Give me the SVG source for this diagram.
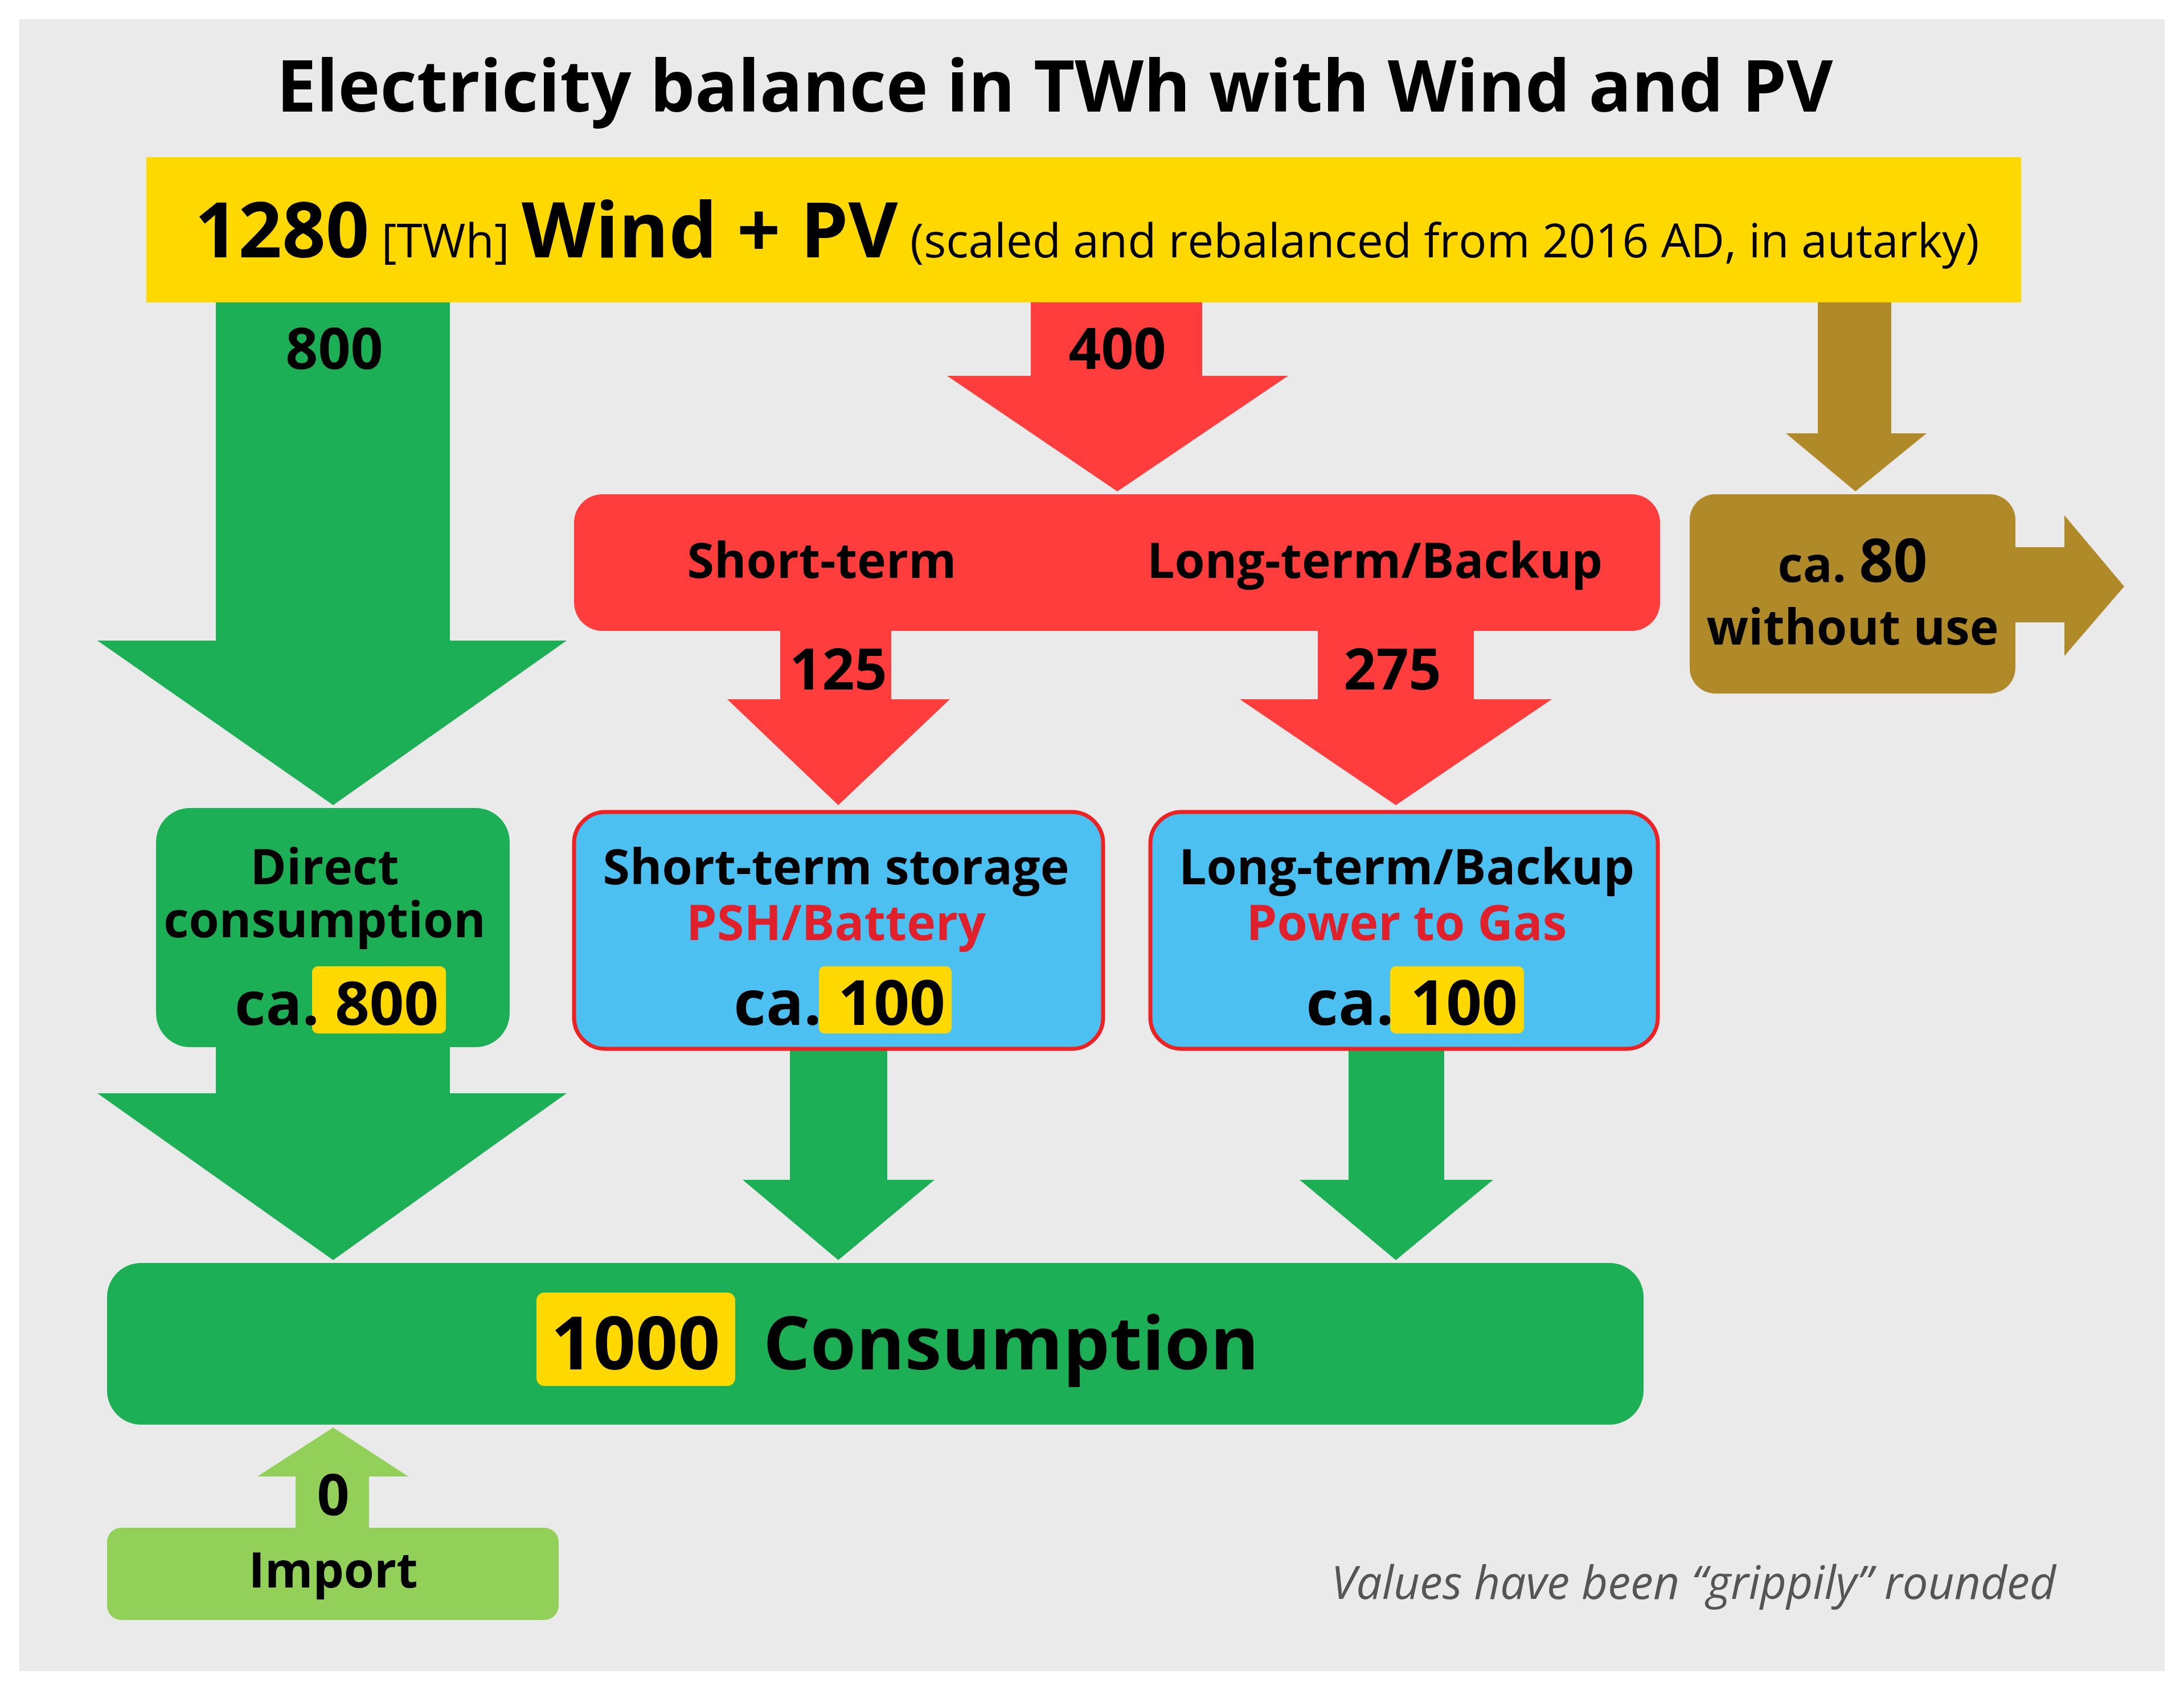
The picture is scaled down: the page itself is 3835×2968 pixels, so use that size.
<svg xmlns="http://www.w3.org/2000/svg" width="3835" height="2968" viewBox="0 0 3835 2968">
<style>
text{font-family:"Open Sans","Noto Sans","DejaVu Sans",sans-serif;fill:#000;text-anchor:middle;font-weight:bold}
.g{fill:#1caf55}.r{fill:#ff3d3d}.b{fill:#b08a28}.y{fill:#ffd800}.lg{fill:#92d05a}
.blue{fill:#4cc0f0;stroke:#ee2222;stroke-width:7}
.red{fill:#e0202a}
.end{text-anchor:end}
.note{font-weight:normal;font-style:italic;fill:#555;text-anchor:end}
</style>
<rect width="3835" height="2968" fill="#fff"/>
<rect x="34" y="34" width="3767" height="2901" fill="#e9eae9"/>
<text x="1852" y="196" font-size="125">Electricity balance in TWh with Wind and PV</text>
<g id="source">
<rect x="257" y="276" width="3292" height="255" class="y"/>
<text x="342" y="452" style="text-anchor:start"><tspan font-size="134">1280</tspan><tspan font-size="82" style="font-weight:normal"> [TWh] </tspan><tspan font-size="134">Wind + PV</tspan><tspan font-size="82" style="font-weight:normal"> (scaled and rebalanced from 2016 AD, in autarky)</tspan></text>
</g>
<g id="connectors">
<polygon class="g" points="379,531 790,531 790,1125 995,1125 585,1414 171,1125 379,1125"/>
<polygon class="r" points="1810,531 2111,531 2111,660 2262,660 1962,863 1663,660 1810,660"/>
<polygon class="b" points="3192,531 3321,531 3321,761 3383,761 3258,863 3136,761 3192,761"/>
<polygon class="b" points="3539,961 3625,961 3625,905 3730,1030 3625,1152 3625,1093 3539,1093"/>
<polygon class="r" points="1370,1108 1565,1108 1565,1228 1668,1228 1472,1414 1277,1228 1370,1228"/>
<polygon class="r" points="2314,1108 2588,1108 2588,1228 2725,1228 2451,1414 2177,1228 2314,1228"/>
<polygon class="g" points="379,1839 790,1839 790,1920 995,1920 585,2213 171,1920 379,1920"/>
<polygon class="g" points="1387,1842 1558,1842 1558,2072 1641,2072 1472,2213 1304,2072 1387,2072"/>
<polygon class="g" points="2368,1842 2536,1842 2536,2072 2622,2072 2451,2213 2282,2072 2368,2072"/>
<polygon class="lg" points="519,2683 648,2683 648,2593 717,2593 585,2507 452,2593 519,2593"/>
<text x="587" y="648" font-size="100">800</text>
<text x="1962" y="648" font-size="100">400</text>
<text x="1472" y="1211" font-size="100">125</text>
<text x="2445" y="1211" font-size="100">275</text>
<text x="585" y="2661" font-size="100">0</text>
</g>
<g id="storage">
<rect x="1008" y="868" width="1907" height="240" rx="50" class="r"/>
<text x="1443" y="1015" font-size="86">Short-term</text>
<text x="2414" y="1015" font-size="86">Long-term/Backup</text>
</g>
<g id="unused">
<rect x="2967" y="868" width="572" height="350" rx="45" class="b"/>
<text x="3253" y="1022" font-size="86">ca. <tspan font-size="105">80</tspan></text>
<text x="3253" y="1132" font-size="86">without use</text>
</g>
<g id="direct">
<rect x="274" y="1419" width="621" height="420" rx="60" class="g"/>
<text x="570" y="1553" font-size="86">Direct</text>
<text x="570" y="1646" font-size="86">consumption</text>
<rect x="548" y="1697" width="235" height="118" rx="10" class="y"/>
<text x="770" y="1800" font-size="106" class="end">ca. 800</text>
</g>
<g id="short">
<rect x="1008" y="1426" width="929" height="416" rx="55" class="blue"/>
<text x="1468" y="1553" font-size="86">Short-term storage</text>
<text x="1468" y="1651" font-size="86" class="red">PSH/Battery</text>
<rect x="1438" y="1697" width="233" height="118" rx="10" class="y"/>
<text x="1660" y="1800" font-size="110" class="end">ca. 100</text>
</g>
<g id="long">
<rect x="2020" y="1426" width="891" height="416" rx="55" class="blue"/>
<text x="2470" y="1553" font-size="86">Long-term/Backup</text>
<text x="2470" y="1651" font-size="86" class="red">Power to Gas</text>
<rect x="2441" y="1697" width="235" height="118" rx="10" class="y"/>
<text x="2665" y="1800" font-size="110" class="end">ca. 100</text>
</g>
<g id="consumption">
<rect x="188" y="2218" width="2698" height="284" rx="60" class="g"/>
<rect x="942" y="2270" width="349" height="164" rx="14" class="y"/>
<text x="1116" y="2405" font-size="130">1000</text>
<text x="1340" y="2405" font-size="130" style="text-anchor:start">Consumption</text>
</g>
<g id="import">
<rect x="188" y="2683" width="793" height="162" rx="25" class="lg"/>
<text x="585" y="2788" font-size="86">Import</text>
</g>
<text x="3610" y="2808" font-size="80" class="note">Values have been “grippily” rounded</text>
</svg>
